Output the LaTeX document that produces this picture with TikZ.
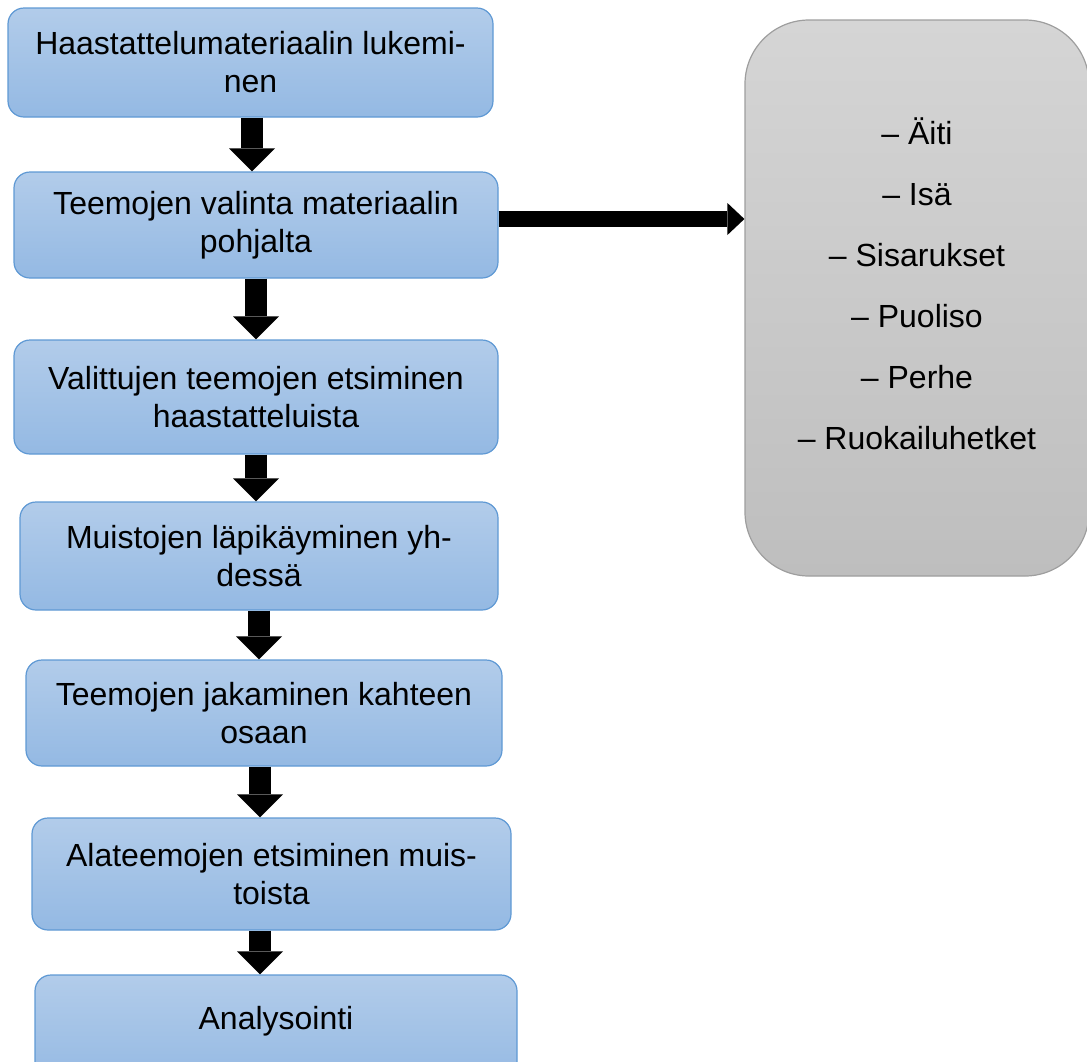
\documentclass[tikz,border=0pt]{standalone}
\usepackage{fontspec}
\setmainfont{Liberation Sans}
\usepackage{xcolor}
\usetikzlibrary{arrows.meta}
\usetikzlibrary{calc}
\definecolor{boxtop}{RGB}{178,204,234}
\definecolor{boxbottom}{RGB}{148,185,227}
\definecolor{boxline}{RGB}{95,153,212}
\definecolor{listtop}{RGB}{213,213,213}
\definecolor{listbottom}{RGB}{190,190,190}
\definecolor{listline}{RGB}{158,158,158}
\tikzstyle{stage} = [rectangle, rounded corners=8pt, 
draw=boxline, line width=0.6pt, 
top color=boxtop, bottom color=boxbottom, 
inner sep=0pt, align=center, 
font=\fontsize{16}{19}\selectfont]
\tikzstyle{themes} = [rectangle, rounded corners=32pt, 
draw=listline, line width=0.6pt, 
top color=listtop, bottom color=listbottom, 
inner sep=0pt, align=center, 
font=\fontsize{16}{30.5}\selectfont]
\tikzstyle{downarrow} = [line width=11pt, -{Triangle[width=23pt, length=11.5pt, line width=0pt]}]
\tikzstyle{sidearrow} = [line width=8pt, -{Triangle[width=16pt, length=8.5pt, line width=0pt]}]

\begin{document}
\begin{tikzpicture} [x=0.5pt, y=-0.5pt]

    \useasboundingbox (0,0) rectangle (1087,1061);

    % the work stages
    \node (Reading) [stage, minimum width=242.5pt, minimum height=54.5pt] at (250.5,62.5) {Haastattelumateriaalin lukemi-\\nen};
    \node (Choosing) [stage, minimum width=242pt, minimum height=53pt] at (256,225) {Teemojen valinta materiaalin\\pohjalta};
    \node (Searching) [stage, minimum width=242pt, minimum height=57pt] at (256,397) {Valittujen teemojen etsiminen\\haastatteluista};
    \node (Memories) [stage, minimum width=239pt, minimum height=54pt] at (259,556) {Muistojen läpikäyminen yh-\\dessä};
    \node (Dividing) [stage, minimum width=238pt, minimum height=53pt] at (264,713) {Teemojen jakaminen kahteen\\osaan};
    \node (Subthemes) [stage, minimum width=239.5pt, minimum height=56pt] at (271.5,874) {Alateemojen etsiminen muis-\\toista};
    \node (Analysis) [stage, minimum width=241pt, minimum height=55pt] at (276,1030) {Analysointi\\[-7pt]\mbox{}};

    % the chosen themes
    \node (Themes) [themes, minimum width=172pt, minimum height=278pt] at (917,298) {– Äiti\\– Isä\\– Sisarukset\\– Puoliso\\– Perhe\\– Ruokailuhetket\\[-16pt]\mbox{}};

    % the connectors
    \draw [downarrow] ([xshift=0.75pt]Reading.south) -- ([xshift=0.75pt]Reading.south |- Choosing.north);
    \draw [downarrow] (Choosing.south) -- (Choosing.south |- Searching.north);
    \draw [downarrow] (Searching.south) -- (Searching.south |- Memories.north);
    \draw [downarrow] (Memories.south) -- (Memories.south |- Dividing.north);
    \draw [downarrow] ([xshift=-2pt]Dividing.south) -- ([xshift=-2pt]Dividing.south |- Subthemes.north);
    \draw [downarrow] ([xshift=-5.75pt]Subthemes.south) -- ([xshift=-5.75pt]Subthemes.south |- Analysis.north);

    \draw [sidearrow] ([yshift=3pt]Choosing.east) -- ([yshift=3pt]Choosing.east -| Themes.west);

\end{tikzpicture}
\end{document}
